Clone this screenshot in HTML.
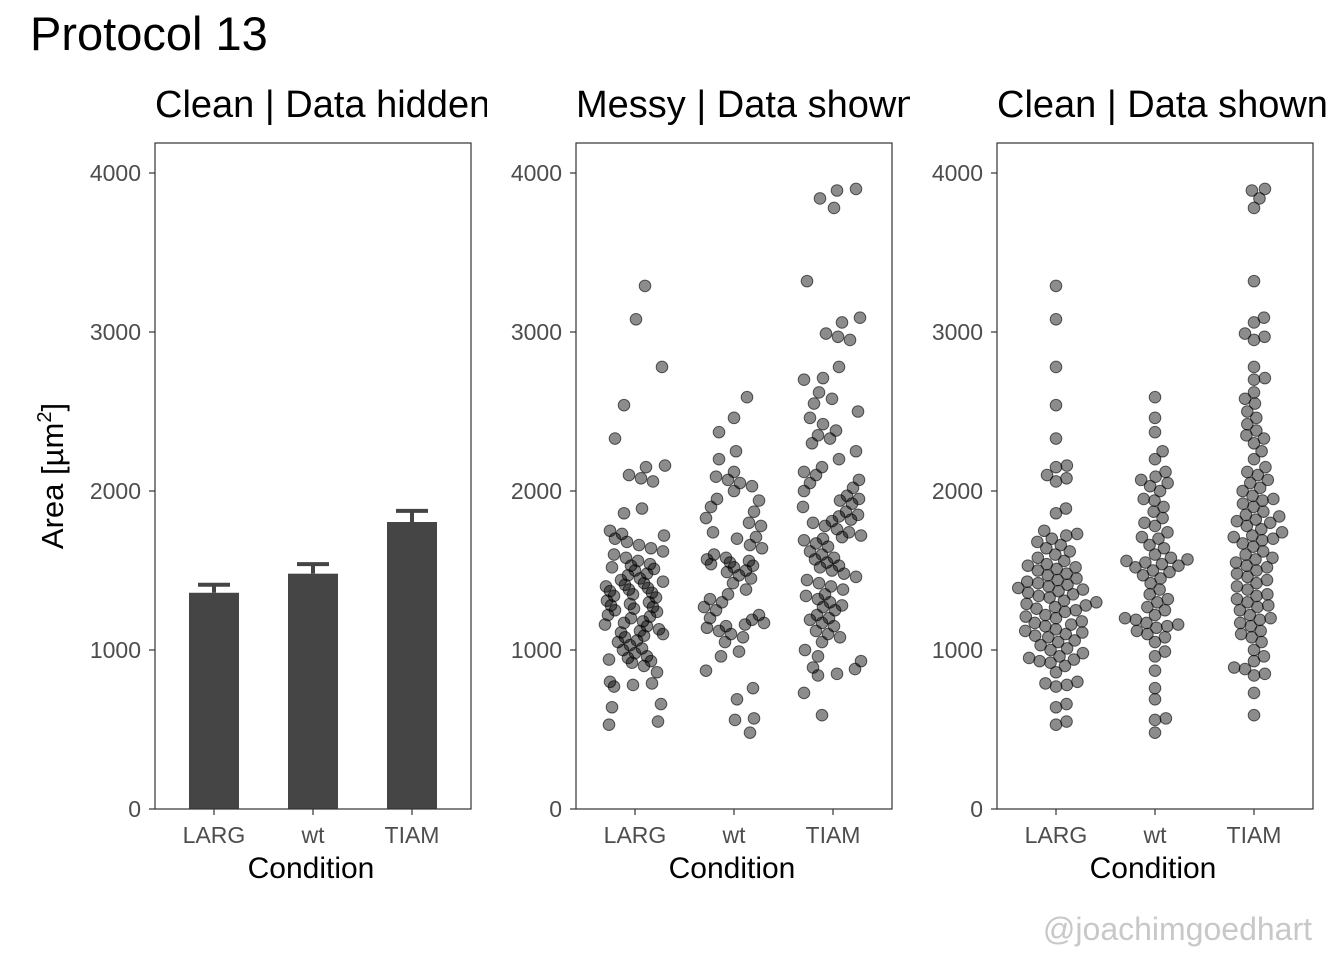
<!DOCTYPE html>
<html><head><meta charset="utf-8"><style>
html,body{margin:0;padding:0;background:#fff;}
svg text{font-family:"Liberation Sans",Arial,sans-serif;}
</style></head><body>
<svg id="chart" width="1344" height="960" viewBox="0 0 1344 960" xmlns="http://www.w3.org/2000/svg">
<defs>
<clipPath id="c1"><rect x="0" y="60" width="487" height="80"/></clipPath>
<clipPath id="c2"><rect x="500" y="60" width="410" height="80"/></clipPath>
<clipPath id="c3"><rect x="920" y="60" width="424" height="80"/></clipPath>
</defs>
<text x="30" y="50" font-size="47">Protocol 13</text>
<text x="155" y="117" font-size="38" clip-path="url(#c1)">Clean | Data hidden</text>
<text x="576" y="117" font-size="38" clip-path="url(#c2)">Messy | Data shown</text>
<text x="997" y="117" font-size="38" clip-path="url(#c3)">Clean | Data shown</text>
<text transform="translate(63,476) rotate(-90)" text-anchor="middle" font-size="31">Area [µm<tspan dy="-12" font-size="20">2</tspan><tspan dy="12">]</tspan></text>
<text x="1312" y="940" text-anchor="end" font-size="32" fill="#c8c8c8">@joachimgoedhart</text>
<g id="plots"></g>
</svg>
<script>
const categories = ["LARG","wt","TIAM"];
const barMeans = [1360,1480,1805];
const barErrTop = [1410,1540,1875];
const yTicks = [0,1000,2000,3000,4000];
const valsLARG = [530,550,640,660,770,780,790,800,860,900,920,930,940,950,960,980,1000,1010,1030,1050,1060,1080,1090,1100,1110,1120,1130,1150,1160,1170,1180,1200,1210,1220,1240,1250,1260,1270,1280,1290,1300,1310,1330,1340,1350,1360,1370,1380,1390,1400,1410,1420,1430,1440,1450,1470,1480,1500,1510,1520,1530,1540,1560,1580,1600,1620,1640,1660,1680,1700,1720,1730,1750,1860,1890,2060,2080,2100,2150,2160,2330,2540,2780,3080,3290];
const valsWT = [480,560,570,690,760,870,960,990,1050,1080,1100,1120,1140,1150,1160,1170,1190,1200,1220,1250,1270,1300,1320,1350,1380,1420,1450,1470,1490,1500,1520,1530,1540,1550,1560,1570,1580,1600,1640,1660,1700,1710,1740,1780,1800,1830,1870,1900,1940,1950,2000,2030,2050,2070,2090,2120,2200,2250,2370,2460,2590];
const valsTIAM = [590,730,840,850,880,890,930,960,1000,1050,1080,1100,1120,1150,1170,1190,1200,1220,1250,1270,1280,1300,1320,1340,1350,1380,1400,1420,1440,1460,1480,1500,1520,1530,1550,1570,1580,1600,1620,1650,1670,1690,1700,1710,1720,1740,1760,1780,1800,1810,1820,1840,1850,1870,1900,1920,1940,1950,1970,2000,2020,2050,2070,2100,2120,2150,2200,2250,2300,2330,2350,2380,2420,2460,2500,2550,2580,2620,2700,2710,2780,2950,2970,2990,3060,3090,3320,3780,3840,3890,3900];
const groups = [valsLARG, valsWT, valsTIAM];

const NS="http://www.w3.org/2000/svg";
const root=document.getElementById('plots');
const yTop=143, yBot=808;
function y(v){return 809-v*(636/4000);}
function mk(tag,attrs,parent){const e=document.createElementNS(NS,tag);for(const k in attrs)e.setAttribute(k,attrs[k]);(parent||root).appendChild(e);return e;}
const panels=[{x0:155,name:'bar'},{x0:576,name:'messy'},{x0:997,name:'swarm'}];
const W=316;
function cx(p,i){return p.x0+59+i*99;}
panels.forEach((p,pi)=>{
  const g=mk('g',{});
  
  
  yTicks.forEach(t=>{
    const l=mk('line',{x1:p.x0-6,x2:p.x0,y1:y(t),y2:y(t),stroke:'#333','stroke-width':1.2},g);
    
    
    const tx=mk('text',{x:p.x0-14,y:y(t)+8,'text-anchor':'end','font-size':23,fill:'#4d4d4d'},g);
    
    
    tx.textContent=t;
  });
  categories.forEach((c,i)=>{
    const x=cx(p,i);
    const l=mk('line',{x1:x,x2:x,y1:809,y2:815,stroke:'#333','stroke-width':1.2},g);
    
    
    const tx=mk('text',{x:x,y:843,'text-anchor':'middle','font-size':23,fill:'#4d4d4d'},g);
    
    
    tx.textContent=c;
  });
  const xt=mk('text',{x:p.x0+W/2-2,y:878,'text-anchor':'middle','font-size':30},g);
  
  
  xt.textContent='Condition';
  if(pi===0){
    categories.forEach((c,i)=>{
      const x=cx(p,i);
      const r=mk('rect',{x:x-25,y:y(barMeans[i]),width:50,height:809-y(barMeans[i]),fill:'#454545'},g);
      
      
      const e=mk('path',{d:`M${x} ${y(barMeans[i])} V${y(barErrTop[i])} M${x-16} ${y(barErrTop[i])} H${x+16}`,stroke:'#454545','stroke-width':4,fill:'none'},g);
      
      
    });
  } else {
    groups.forEach((vals,gi)=>{
      const x0=cx(p,gi);
      let xs;
      if(pi===1){
        xs=vals.map((v,k)=>x0+(((k*7919+gi*131+v*3)%61)-30));
      } else {
        const placed=[];xs=[];const d=11;
        const order=vals.map((v,k)=>k).sort((a,b)=>vals[a]-vals[b]);
        order.forEach(k=>{
          const yy=y(vals[k]);let best=0;
          const cands=[0];
          placed.forEach(q=>{const dy=Math.abs(q.y-yy);if(dy<d){const dx=Math.sqrt(d*d-dy*dy);cands.push(q.x+dx,q.x-dx);}});
          cands.sort((a,b)=>Math.abs(a)-Math.abs(b));
          for(const c of cands){if(placed.every(q=>(q.x-c)**2+(q.y-yy)**2>=d*d-0.01)){best=c;break;}}
          placed.push({x:best,y:yy});xs[k]=x0+best;
        });
      }
      vals.forEach((v,k)=>{
        const c=mk('circle',{cx:xs[k],cy:y(v),r:5.8,fill:'rgba(0,0,0,0.45)',stroke:'rgba(0,0,0,0.6)','stroke-width':1},g);
        
        
      });
    });
  }
  const fr=mk('rect',{x:p.x0,y:yTop,width:W,height:yBot-yTop+1,fill:'none',stroke:'#333','stroke-width':1.2},g);
  
  
});
</script>
</body></html>
